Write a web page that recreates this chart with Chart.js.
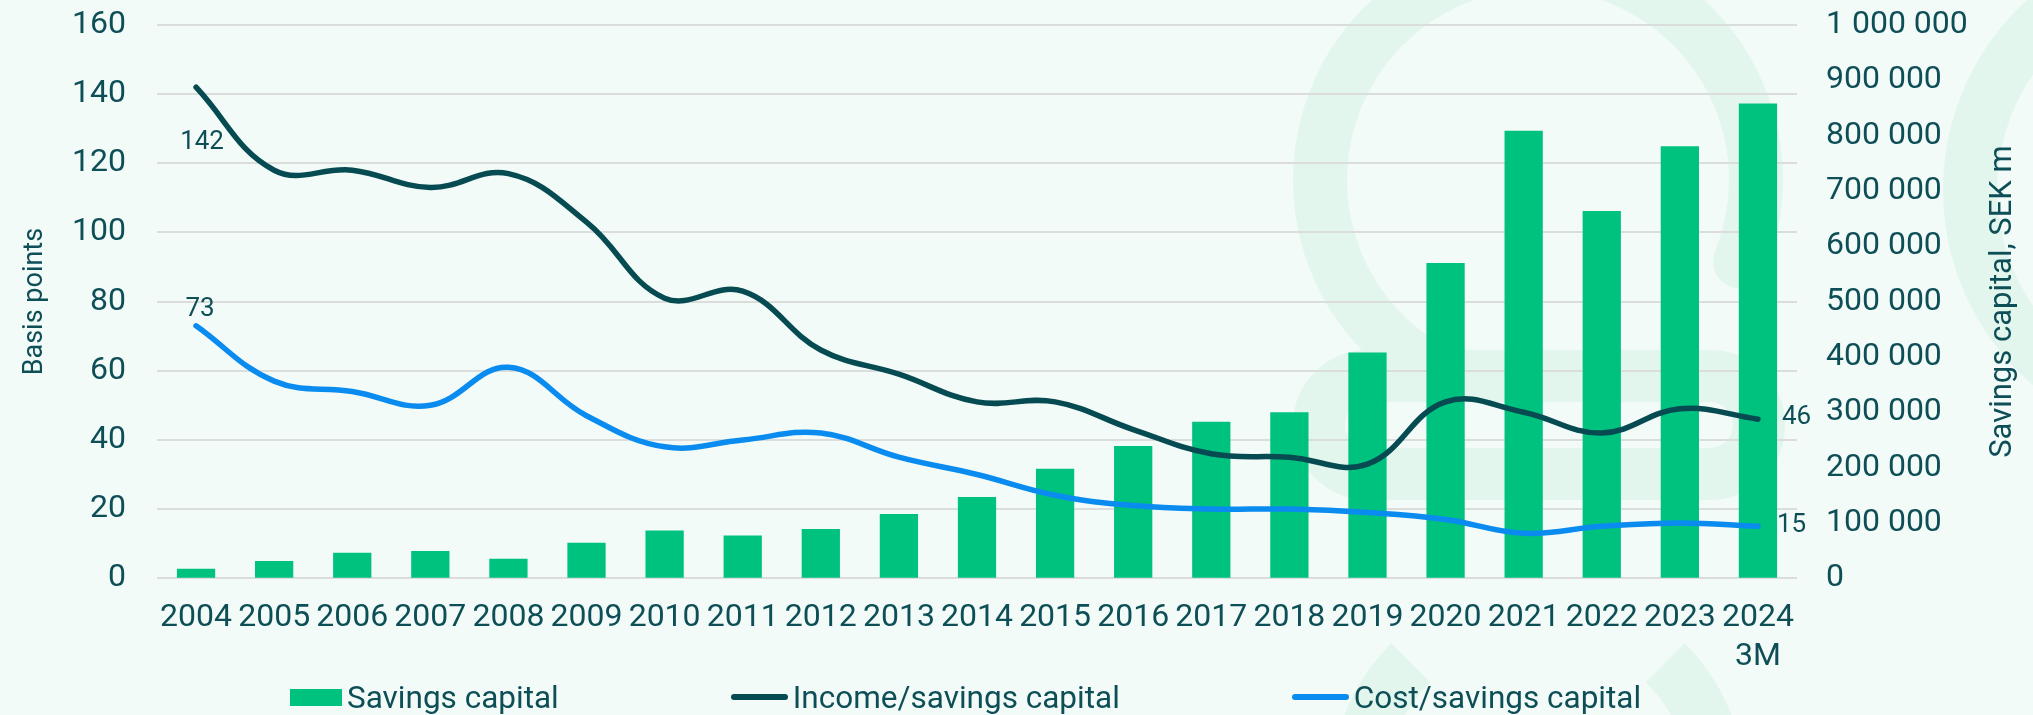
<!DOCTYPE html>
<html>
<head>
<meta charset="utf-8">
<script src="https://cdn.jsdelivr.net/npm/chart.js@4.4.1/dist/chart.umd.min.js"></script>
<style>
  html, body { margin: 0; padding: 0; background: #F2FBF8; }
  #wrap { position: relative; width: 2033px; height: 715px; }
  #legend {
    position: absolute; left: 290px; top: 679px; height: 36px;
    display: flex; align-items: center;
    font-family: Roboto, sans-serif; font-size: 31.5px; color: #0E4F57;
  }
  .item { display: flex; align-items: center; margin-right: 172px; white-space: nowrap; }
  .box { width: 52px; height: 17px; margin-right: 5px; }
  .line { width: 57px; height: 5.5px; border-radius: 3px; margin-right: 5px; }
</style>
</head>
<body>
<div id="wrap">
  <canvas id="savingsChart"></canvas>
  <div id="legend"></div>
</div>
<script>
// categories and series
var years = ['2004', '2005', '2006', '2007', '2008', '2009', '2010', '2011', '2012', '2013',
  '2014', '2015', '2016', '2017', '2018', '2019', '2020', '2021', '2022', '2023', ['2024', '3M']];
var savingsCapital = [17000, 31000, 46000, 49000, 35000, 64000, 86000, 77000, 89000, 116000,
  147000, 198000, 239000, 283000, 300000, 408000, 570000, 809000, 664000, 781000, 858000];
var incomeRatio = [142, 118, 118, 113, 117, 103, 81, 83, 66, 59, 51, 51, 43, 36, 35, 33, 51, 48, 42, 49, 46];
var costRatio = [73, 57, 54, 50, 61, 47, 38, 40, 42, 35, 30, 24, 21, 20, 20, 19, 17, 13, 15, 16, 15];

var textColor = '#0E4F57';
var barColor = '#00C27F';
var incomeColor = '#064B51';
var costColor = '#0A8BEF';

Chart.defaults.font.family = 'Roboto, sans-serif';
Chart.defaults.color = textColor;

function spaced(v) {
  return String(v).replace(/\B(?=(\d{3})+(?!\d))/g, ' ');
}

// background with the faint logo shapes behind the chart
var backdrop = {
  id: 'backdrop',
  beforeDraw: function (chart) {
    var ctx = chart.ctx;
    ctx.save();
    ctx.fillStyle = '#F2FBF8';
    ctx.fillRect(0, 0, chart.width, chart.height);
    ctx.strokeStyle = '#E3F6EE';
    ctx.lineWidth = 54;
    ctx.lineCap = 'round';
    // upper ring
    ctx.beginPath();
    ctx.arc(1538, 180, 218, 22 * Math.PI / 180, 123 * Math.PI / 180, true);
    ctx.stroke();
    // ring at the top right corner
    ctx.beginPath();
    ctx.arc(2200, 190, 230, 0, Math.PI * 2);
    ctx.stroke();
    // middle bar
    ctx.lineWidth = 52;
    ctx.beginPath();
    ctx.roundRect(1319, 376, 440, 98, 49);
    ctx.stroke();
    // lower legs
    ctx.lineWidth = 55;
    ctx.lineCap = 'butt';
    ctx.beginPath();
    ctx.arc(1538, 790, 180, Math.PI, 1.25 * Math.PI);
    ctx.stroke();
    ctx.beginPath();
    ctx.arc(1538, 790, 180, 1.75 * Math.PI, 2 * Math.PI);
    ctx.stroke();
    ctx.restore();
  }
};

// end labels on the two lines and the right axis title
var endLabels = {
  id: 'endLabels',
  afterDatasetsDraw: function (chart) {
    var ctx = chart.ctx;
    var inc = chart.getDatasetMeta(1).data;
    var cost = chart.getDatasetMeta(2).data;
    var last = inc.length - 1;
    ctx.save();
    ctx.fillStyle = textColor;
    ctx.font = '26px Roboto, sans-serif';
    ctx.textBaseline = 'middle';
    ctx.textAlign = 'center';
    ctx.fillText(incomeRatio[0], inc[0].x + 6, inc[0].y + 55);
    ctx.fillText(costRatio[0], cost[0].x + 4, cost[0].y - 16);
    ctx.textAlign = 'left';
    ctx.fillText(incomeRatio[last], inc[last].x + 24, inc[last].y - 2);
    ctx.fillText(costRatio[last], cost[last].x + 19, cost[last].y - 1);

    var area = chart.chartArea;
    ctx.font = '31px Roboto, sans-serif';
    ctx.textAlign = 'center';
    ctx.translate(2003, (area.top + area.bottom) / 2);
    ctx.rotate(-Math.PI / 2);
    ctx.fillText('Savings capital, SEK m', 0, 0);
    ctx.restore();
  }
};

var ctx = document.getElementById('savingsChart').getContext('2d');
var chart = new Chart(ctx, {
  data: {
    labels: years,
    datasets: [
      {
        type: 'bar',
        label: 'Savings capital',
        data: savingsCapital,
        yAxisID: 'y1',
        backgroundColor: barColor,
        categoryPercentage: 1,
        barPercentage: 0.49,
        order: 3
      },
      {
        type: 'line',
        label: 'Income/savings capital',
        data: incomeRatio,
        yAxisID: 'y',
        borderColor: incomeColor,
        backgroundColor: incomeColor,
        borderWidth: 5.5,
        borderCapStyle: 'round',
        pointRadius: 0,
        tension: 0.4,
        order: 1
      },
      {
        type: 'line',
        label: 'Cost/savings capital',
        data: costRatio,
        yAxisID: 'y',
        borderColor: costColor,
        backgroundColor: costColor,
        borderWidth: 5.5,
        borderCapStyle: 'round',
        pointRadius: 0,
        tension: 0.4,
        order: 2
      }
    ]
  },
  options: {
    responsive: true,
    maintainAspectRatio: false,
    animation: false,
    layout: { padding: { top: 25, bottom: 18, left: 0, right: 0 } },
    plugins: {
      legend: { display: false },
      tooltip: { enabled: false }
    },
    scales: {
      x: {
        grid: { display: false, drawTicks: false },
        border: { display: false },
        ticks: { font: { size: 32 }, maxRotation: 0, autoSkip: false, padding: 21 }
      },
      y: {
        position: 'left',
        min: 0,
        max: 160,
        ticks: { stepSize: 20, font: { size: 32 }, padding: 0 },
        grid: { color: '#DADDDC', lineWidth: 2, drawTicks: true, tickLength: 31, tickColor: 'rgba(0,0,0,0)' },
        border: { display: false },
        title: {
          display: true,
          text: 'Basis points',
          font: { size: 27 },
          padding: { top: 19, bottom: 0 }
        },
        afterFit: function (scale) { scale.width = 157; }
      },
      y1: {
        position: 'right',
        min: 0,
        max: 1000000,
        ticks: {
          stepSize: 100000,
          font: { size: 32 },
          padding: 0,
          callback: function (v) { return spaced(v); }
        },
        grid: { drawOnChartArea: false, drawTicks: true, tickLength: 29, tickColor: 'rgba(0,0,0,0)' },
        border: { display: false },
        afterFit: function (scale) { scale.width = 236; }
      }
    }
  },
  plugins: [backdrop, endLabels]
});

// legend built from the datasets
var legend = document.getElementById('legend');
chart.data.datasets.forEach(function (ds) {
  var item = document.createElement('div');
  item.className = 'item';
  var mark = document.createElement('span');
  mark.className = ds.type === 'bar' ? 'box' : 'line';
  mark.style.background = ds.type === 'bar' ? ds.backgroundColor : ds.borderColor;
  var txt = document.createElement('span');
  txt.textContent = ds.label;
  item.appendChild(mark);
  item.appendChild(txt);
  legend.appendChild(item);
});
</script>
</body>
</html>
